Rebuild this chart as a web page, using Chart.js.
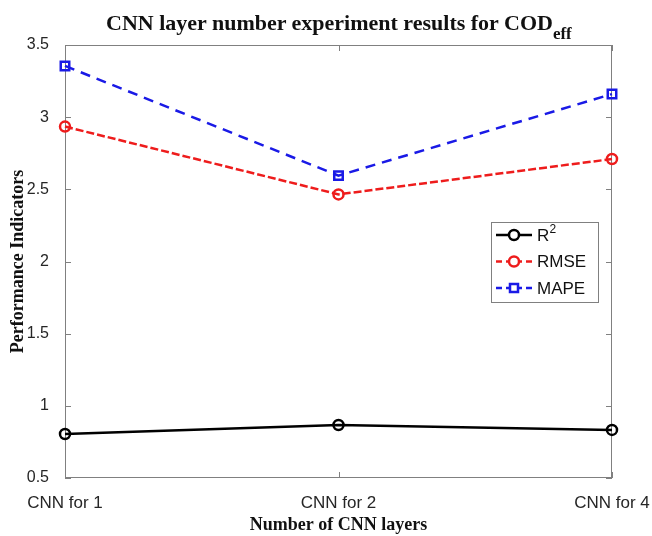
<!DOCTYPE html>
<html>
<head>
<meta charset="utf-8">
<script src="https://cdn.jsdelivr.net/npm/chart.js@4/dist/chart.umd.min.js"></script>
<style>
  html, body { margin: 0; padding: 0; background: #fff; }
  #wrap { position: relative; width: 652px; height: 536px; }
  #chart { position: absolute; left: 0; top: 0; }
  #title {
    position: absolute; left: 106px; top: 10px; white-space: nowrap; line-height: 22px;
    font: bold 22px "Liberation Serif", "Times New Roman", serif; color: #111;
  }
  #title sub { font-size: 17px; vertical-align: -9px; line-height: 0; }
</style>
</head>
<body>
<div id="wrap">
  <canvas id="chart" width="652" height="536"></canvas>
  <div id="title">CNN layer number experiment results for COD<sub>eff</sub></div>
</div>
<script>
(function () {
  'use strict';

  const categories = ['CNN for 1', 'CNN for 2', 'CNN for 4'];
  const r2Values = [0.805, 0.867, 0.833];
  const rmseValues = [2.935, 2.465, 2.71];
  const mapeValues = [3.355, 2.595, 3.16];
  const yMin = 0.5, yMax = 3.5, yStep = 0.5;
  const xTitle = 'Number of CNN layers';
  const yTitle = 'Performance Indicators';

  const sansFont = '"Liberation Sans", Arial, sans-serif';
  const serifFont = '"Liberation Serif", "Times New Roman", serif';
  const axisColor = '#808080';
  const textColor = '#262626';

  const series = [
    { label: 'R\u00b2', data: r2Values, color: '#000000', dash: [], point: 'circle', radius: 5 },
    { label: 'RMSE', data: rmseValues, color: '#ee1c1c', dash: [8, 3], point: 'circle', radius: 5 },
    { label: 'MAPE', data: mapeValues, color: '#1a1ae6', dash: [10, 7], point: 'rect', radius: 6 }
  ];

  // MATLAB-style box with inward ticks
  const boxPlugin = {
    id: 'box',
    beforeDatasetsDraw(chart) {
      const { ctx, chartArea: a, scales } = chart;
      ctx.save();
      ctx.strokeStyle = axisColor;
      ctx.lineWidth = 1;
      ctx.strokeRect(a.left + 0.5, a.top + 0.5, a.right - a.left - 1, a.bottom - a.top - 1);
      ctx.beginPath();
      scales.y.ticks.forEach(t => {
        const y = Math.round(scales.y.getPixelForValue(t.value)) + 0.5;
        ctx.moveTo(a.left, y); ctx.lineTo(a.left + 6, y);
        ctx.moveTo(a.right, y); ctx.lineTo(a.right - 6, y);
      });
      categories.forEach((c, i) => {
        const x = Math.round(scales.x.getPixelForValue(i)) + 0.5;
        ctx.moveTo(x, a.bottom); ctx.lineTo(x, a.bottom - 6);
        ctx.moveTo(x, a.top); ctx.lineTo(x, a.top + 6);
      });
      ctx.stroke();
      ctx.restore();
    }
  };

  // legend box inside the plot, right side
  const legendPlugin = {
    id: 'boxLegend',
    afterDatasetsDraw(chart) {
      const { ctx, chartArea: a } = chart;
      const bx = a.right - 121, by = a.top + 177, bw = 107, bh = 80;
      ctx.save();
      ctx.fillStyle = '#fff';
      ctx.fillRect(bx, by, bw, bh);
      ctx.strokeStyle = axisColor;
      ctx.lineWidth = 1;
      ctx.strokeRect(bx + 0.5, by + 0.5, bw, bh);
      ctx.font = '17px ' + sansFont;
      ctx.textBaseline = 'middle';
      series.forEach((s, i) => {
        const y = by + 13 + i * 26.5;
        const x0 = bx + 5, x1 = bx + 41, xm = (x0 + x1) / 2;
        ctx.strokeStyle = s.color;
        ctx.lineWidth = 2.5;
        ctx.setLineDash(s.dash.length ? [6, 4] : []);
        ctx.beginPath(); ctx.moveTo(x0, y); ctx.lineTo(x1, y); ctx.stroke();
        ctx.setLineDash([]);
        ctx.fillStyle = '#fff';
        ctx.beginPath();
        if (s.point === 'rect') {
          ctx.rect(xm - 4, y - 4, 8, 8);
        } else {
          ctx.arc(xm, y, 5, 0, Math.PI * 2);
        }
        ctx.fill(); ctx.stroke();
        ctx.fillStyle = '#111';
        if (i === 0) {
          ctx.fillText('R', bx + 46, y + 1);
          ctx.font = '12px ' + sansFont;
          ctx.fillText('2', bx + 46 + ctx.measureText('R').width * 1.45, y - 5);
          ctx.font = '17px ' + sansFont;
        } else {
          ctx.fillText(s.label, bx + 46, y + 1);
        }
      });
      ctx.restore();
    }
  };

  new Chart(document.getElementById('chart').getContext('2d'), {
    type: 'line',
    data: {
      labels: categories,
      datasets: series.map(s => ({
        label: s.label,
        data: s.data,
        borderColor: s.color,
        borderWidth: 2.5,
        borderDash: s.dash,
        pointStyle: s.point,
        pointRadius: s.radius,
        pointBorderWidth: 2.5,
        pointBackgroundColor: 'rgba(255,255,255,0)',
        pointBorderColor: s.color,
        tension: 0,
        fill: false
      }))
    },
    options: {
      responsive: false,
      animation: false,
      events: [],
      layout: { padding: { top: 45, right: 40, left: 0, bottom: 0 } },
      plugins: { legend: { display: false }, title: { display: false }, tooltip: { enabled: false } },
      scales: {
        x: {
          type: 'category',
          offset: false,
          grid: { display: false },
          border: { display: false },
          ticks: {
            autoSkip: false, maxRotation: 0, padding: 7,
            color: textColor, font: { family: sansFont, size: 17 }
          },
          title: {
            display: true, text: xTitle, color: '#111', padding: { top: 2, bottom: 0 },
            font: { family: serifFont, size: 18, weight: 'bold' }
          },
          afterFit(scale) {
            scale.height = 58;
            scale.paddingLeft = 0;
            scale.paddingRight = 0;
          }
        },
        y: {
          min: yMin, max: yMax,
          grid: { display: false },
          border: { display: false },
          ticks: {
            stepSize: yStep, padding: 8,
            color: textColor, font: { family: sansFont, size: 16 },
            callback: v => String(Math.round(v * 100) / 100)
          },
          title: {
            display: true, text: yTitle, color: '#111', padding: { top: 8, bottom: 0 },
            font: { family: serifFont, size: 18, weight: 'bold' }
          },
          afterFit(scale) { scale.width = 65; }
        }
      }
    },
    plugins: [boxPlugin, legendPlugin]
  });
})();
</script>
</body>
</html>
